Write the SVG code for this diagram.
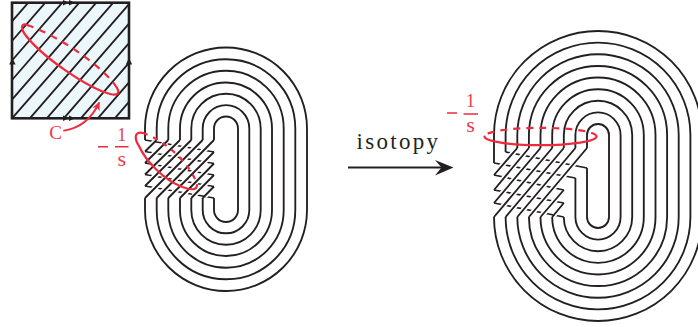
<svg xmlns="http://www.w3.org/2000/svg" width="698" height="327" viewBox="0 0 698 327">
<style>
.k{fill:none;stroke:#231f20;stroke-width:1.850;stroke-linejoin:miter}
.row{fill:none;stroke:#231f20;stroke-width:1.700}
.halo{fill:none;stroke:#fff;stroke-width:5.400}
.r{fill:none;stroke:#ee2a3c;stroke-width:2.200;stroke-linecap:round}
.rd{stroke-dasharray:7 6;stroke-linecap:butt}
.t{font-family:"Liberation Serif",serif;fill:#ee3a4a;text-anchor:middle}
.tri{fill:#231f20}
</style>
<defs>
<marker id="ra" markerUnits="userSpaceOnUse" markerWidth="10" markerHeight="10" refX="7" refY="4" orient="auto"><path d="M0 0L8 4L0 8L2 4Z" fill="#ee2a3c"/></marker>
</defs>
<rect width="698" height="327" fill="#fff"/>

<g id="torus">
<rect x="12" y="2.7" width="117" height="115.6" fill="#ecf7fc"/>
<path class="k" d="M28.3 2.7L12 21.4M45.3 2.7L12 41M62.3 2.7L12 60.5M79.3 2.7L12 80M96.3 2.7L12 99.6M113.3 2.7L12 118.3M129 4.2L29.8 118.3M129 23.7L46.8 118.3M129 43.2L63.8 118.3M129 62.8L80.8 118.3M129 82.3L97.8 118.3M129 101.9L114.8 118.3"/>
<rect x="12" y="2.7" width="117" height="115.6" fill="none" stroke="#231f20" stroke-width="2.600"/>
<path class="tri" d="M63 0L69 2.7L63 5.4ZM69 0L75 2.7L69 5.4ZM63 115.6L69 118.3L63 121ZM69 115.6L75 118.3L69 121ZM9.2 64.5L12.4 58L15.6 64.5ZM125.8 64.5L129 58L132.2 64.5Z"/>
<path class="r" d="M27 25C21 22 21 29 24 33C40 56 88 88 110 94C118 96 120 93 117 88"/>
<path class="r rd" d="M27 25C58 35 105 68 117 88"/>
</g>

<g id="curve-c">
<path class="r" style="stroke-width:1.8" d="M64 130.7C80 128 92 118 99 103" marker-end="url(#ra)"/>
<text class="t" x="55.500" y="139" font-size="19">C</text>
</g>

<g id="surface-left">
<path class="row" d="M145 140L214 152M145 151.500L214 163.500M145 163L214 175M145 174.500L214 186.500M145 186L214 198"/>
<path class="halo" d="M154.700 142L147 149.500M166.300 142L147 161M178 142L147 172.500M189.300 142L147 184M200.700 142L147 196M212 142L158.700 196M212 154L170.300 196M212 165.500L182 196M212 177L193.300 196M212 188.500L204.700 196"/>
<path class="k" d="M156.700 140L145 151.500M168.300 140L145 163M180 140L145 174.500M191.300 140L145 186M202.700 140L145 198M214 140L156.700 198M214 152L168.300 198M214 163.500L180 198M214 175L191.300 198M214 186.500L202.700 198"/>
<path class="k" d="M145 140V128.500A81 81 0 0 1 307 128.500V210A81 81 0 0 1 145 210V198M156.700 140V128.500A69.300 69.300 0 0 1 295.300 128.500V210A69.300 69.300 0 0 1 156.700 210V198M168.300 140V128.500A57.700 57.700 0 0 1 283.700 128.500V210A57.700 57.700 0 0 1 168.300 210V198M180 140V128.500A46 46 0 0 1 272 128.500V210A46 46 0 0 1 180 210V198M191.300 140V128.500A34.700 34.700 0 0 1 260.700 128.500V210A34.700 34.700 0 0 1 191.300 210V198M202.700 140V128.500A23.300 23.300 0 0 1 249.300 128.500V210A23.300 23.300 0 0 1 202.700 210V198M214 140V128.500A12 12 0 0 1 238 128.500V210A12 12 0 0 1 214 210V198"/>
<path class="r" d="M143 133C133 131 135 140 139 146C146 162 165 180 180 186C190 190 197 191 197 185"/>
<path class="r rd" style="stroke-dasharray:5 6" d="M143 133C165 140 192 165 197 185"/>
</g>

<g id="label-left">
<path class="r" style="stroke-width:1.4;stroke-linecap:butt" d="M98 146.700H108M115 146.700H128.500"/>
<text class="t" x="121.700" y="140.500" font-size="18">1</text>
<text class="t" x="121.700" y="165.500" font-size="22">s</text>
</g>

<g id="connectors">
<text x="356.500" y="149" font-family="Liberation Serif, serif" font-size="23" letter-spacing="2.300" fill="#231f20">isotopy</text>
<path d="M348 167.500H442" fill="none" stroke="#231f20" stroke-width="2.200"/>
<path d="M453.500 167.500L435 160L441.500 167.500L435 175.500Z" fill="#231f20"/>
</g>

<g id="surface-right">
<path class="row" d="M505.600 152L587 168M494 163L575.400 178M494 175L563.800 190M494 190L563.800 203M494 203L563.800 217"/>
<path class="halo" d="M515.600 150L495.700 173M527.200 150L495.700 188M538.800 150L495.700 201M550.500 150L495.700 215M562.100 150L507.300 215M573.700 150L519 215M585.300 150L530.600 215M562.100 192L542.200 215M562.100 205L553.900 215"/>
<path class="k" d="M517.300 148L494 175M528.900 148L494 190M540.500 148L494 203M552.200 148L494 217M563.800 148L505.600 217M575.400 148L517.300 217M587 148L528.900 217M563.800 190L540.500 217M563.800 203L552.200 217"/>
<path class="k" d="M494 163V135A104 104 0 0 1 702 135V217A104 104 0 0 1 494 217M505.600 152V135A92.400 92.400 0 0 1 690.400 135V217A92.400 92.400 0 0 1 505.600 217M517.300 148V135A80.700 80.700 0 0 1 678.700 135V217A80.700 80.700 0 0 1 517.300 217M528.900 148V135A69.100 69.100 0 0 1 667.100 135V217A69.100 69.100 0 0 1 528.900 217M540.500 148V135A57.500 57.500 0 0 1 655.500 135V217A57.500 57.500 0 0 1 540.500 217M552.200 148V135A45.800 45.800 0 0 1 643.800 135V217A45.800 45.800 0 0 1 552.200 217M563.800 148V135A34.200 34.200 0 0 1 632.200 135V217A34.200 34.200 0 0 1 563.800 217M575.400 148V135A22.600 22.600 0 0 1 620.600 135V217A22.600 22.600 0 0 1 575.400 217V178M587 148V135A11 11 0 0 1 609 135V217A11 11 0 0 1 587 217V168"/>
<path class="r" d="M484.500 136.500A56 8.700 0 0 0 596.500 136.500"/>
<path class="r rd" d="M596.500 136.500A56 8.700 0 0 0 484.500 136.500"/>
</g>

<g id="label-right">
<path class="r" style="stroke-width:1.4;stroke-linecap:butt" d="M447 113H457M463.500 114H478"/>
<text class="t" x="470.500" y="106.500" font-size="18">1</text>
<text class="t" x="470.500" y="132" font-size="22">s</text>
</g>
</svg>
